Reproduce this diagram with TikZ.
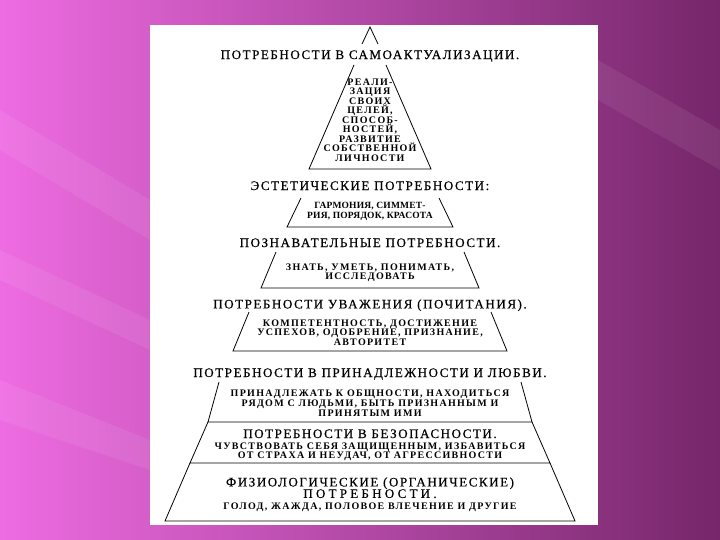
\documentclass[tikz,border=0pt]{standalone}
\usepackage{fontspec}
\setmainfont{Liberation Serif}
\newfontfamily\headfont[LetterSpace=12, FakeBold=0.4]{Liberation Serif}
\newfontfamily\notefont[LetterSpace=13]{Liberation Serif}
\usetikzlibrary{calc}

\definecolor{slidepink}{RGB}{238,108,226}
\definecolor{slidemid}{RGB}{170,72,156}
\definecolor{slidedark}{RGB}{118,38,106}

\tikzset{
  head/.style={font=\headfont\fontsize{13}{11.5}\selectfont, inner sep=0pt, anchor=north, align=center},
  note/.style={font=\notefont\bfseries\fontsize{10}{9.5}\selectfont, inner sep=0pt, anchor=north, align=center},
  streak/.style={fill=white, opacity=0.07}
}

\begin{document}
\begin{tikzpicture}[x=1pt, y=-1pt, line width=0.8pt]
  \useasboundingbox (0,0) rectangle (720,540);

  % slide background
  \shade[left color=slidepink, middle color=slidemid, right color=slidedark] (0,0) rectangle (720,540);
  \fill[streak] (0,110) -- (0,150) -- (150,240) -- (150,200) -- cycle;
  \fill[streak] (0,250) -- (0,280) -- (150,350) -- (150,320) -- cycle;
  \fill[streak] (0,380) -- (0,420) -- (150,470) -- (150,440) -- cycle;
  \fill[streak] (598,60) -- (598,100) -- (720,170) -- (720,130) -- cycle;

  % sheet
  \fill[white] (150,25) rectangle (598,525);

  % pyramid: top y / half width / bottom y / half width
  \draw (362,44) -- (370,27) -- (378,44);
  \foreach \ya/\wa/\yb/\wb in {65/16/169/61, 198/69/227/83, 252/94/288/109,
      312/121/351/137, 382/151/422/162, 422/162/463/180, 463/180/521/205}
    \draw (370-\wa,\ya) -- (370-\wb,\yb) -- (370+\wb,\yb) -- (370+\wa,\ya);

  % levels
  \node[head] (selfhead) at (370,50) {ПОТРЕБНОСТИ В САМОАКТУАЛИЗАЦИИ.};
  \node[note] (selftext) at (370,78)
    {РЕАЛИ-\\ЗАЦИЯ\\СВОИХ\\ЦЕЛЕЙ,\\СПОСОБ-\\НОСТЕЙ,\\РАЗВИТИЕ\\СОБСТВЕННОЙ\\ЛИЧНОСТИ};

  \node[head] (aesthead) at (370,181) {ЭСТЕТИЧЕСКИЕ ПОТРЕБНОСТИ:};
  \node[note, font=\notefont\bfseries\fontsize{9.5}{9.5}\selectfont\addfontfeature{LetterSpace=2}]
    (aesttext) at (370,202) {ГАРМОНИЯ, СИММЕТ-\\РИЯ, ПОРЯДОК, КРАСОТА};

  \node[head] (cognhead) at (370,238) {ПОЗНАВАТЕЛЬНЫЕ ПОТРЕБНОСТИ.};
  \node[note] (cogntext) at (370,263) {ЗНАТЬ, УМЕТЬ, ПОНИМАТЬ,\\ИССЛЕДОВАТЬ};

  \node[head] (esteemhead) at (370,299) {ПОТРЕБНОСТИ УВАЖЕНИЯ (ПОЧИТАНИЯ).};
  \node[note] (esteemtext) at (370,319)
    {КОМПЕТЕНТНОСТЬ, ДОСТИЖЕНИЕ\\УСПЕХОВ, ОДОБРЕНИЕ, ПРИЗНАНИЕ,\\АВТОРИТЕТ};

  \node[head] (lovehead) at (370,368) {ПОТРЕБНОСТИ В ПРИНАДЛЕЖНОСТИ И ЛЮБВИ.};
  \node[note, font=\notefont\bfseries\fontsize{10}{10}\selectfont] (lovetext) at (370,389)
    {ПРИНАДЛЕЖАТЬ К ОБЩНОСТИ, НАХОДИТЬСЯ\\РЯДОМ С ЛЮДЬМИ, БЫТЬ ПРИЗНАННЫМ И\\ПРИНЯТЫМ ИМИ};

  \node[head] (safehead) at (370,429) {ПОТРЕБНОСТИ В БЕЗОПАСНОСТИ.};
  \node[note] (safetext) at (370,442)
    {ЧУВСТВОВАТЬ СЕБЯ ЗАЩИЩЕННЫМ, ИЗБАВИТЬСЯ\\ОТ СТРАХА И НЕУДАЧ, ОТ АГРЕССИВНОСТИ};

  \node[head] (physhead) at (370,477)
    {ФИЗИОЛОГИЧЕСКИЕ (ОРГАНИЧЕСКИЕ)\\{\addfontfeature{LetterSpace=25}ПОТРЕБНОСТИ.}};
  \node[note] (phystext) at (370,502) {ГОЛОД, ЖАЖДА, ПОЛОВОЕ ВЛЕЧЕНИЕ И ДРУГИЕ};
\end{tikzpicture}
\end{document}
